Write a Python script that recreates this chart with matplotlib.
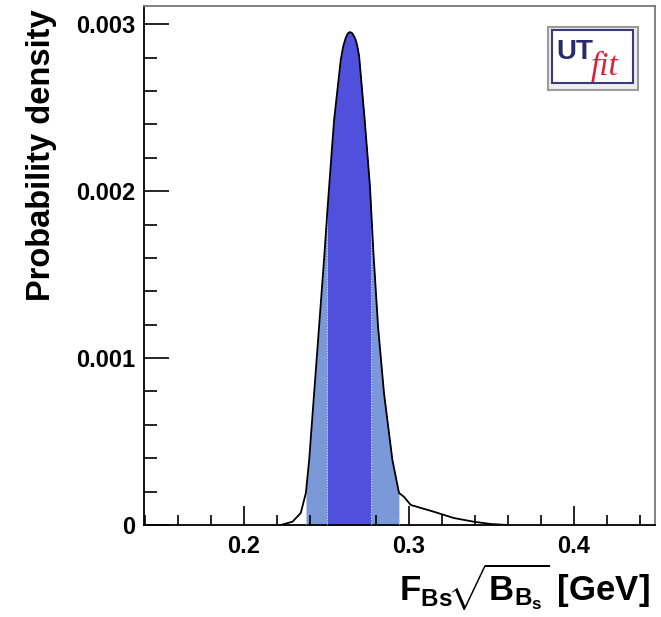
import numpy as np
import matplotlib
matplotlib.use("Agg")
import matplotlib.pyplot as plt
from matplotlib.patches import Rectangle
from matplotlib.ticker import MultipleLocator, FixedLocator

# ---- data ----
x_vals = [0.2224, 0.2295, 0.2345, 0.2376, 0.2396, 0.2426, 0.2456, 0.2487,
          0.2507, 0.2517, 0.2547, 0.2588, 0.2603, 0.2618, 0.2631, 0.2644, 0.2658,
          0.2675, 0.2687, 0.2699, 0.2733,
          0.2765, 0.2770, 0.2786, 0.2814, 0.2850, 0.2901, 0.2941, 0.2971, 0.3012,
          0.3152, 0.3273, 0.3394, 0.3497, 0.3600]
y_vals = [0.0, 0.0000198, 0.0000719, 0.000192, 0.000389, 0.000789, 0.001187, 0.001600,
          0.00189, 0.002026, 0.002425, 0.002790, 0.002870, 0.002920, 0.002946, 0.002954, 0.002946,
          0.002915, 0.002875, 0.002810, 0.002425,
          0.002026, 0.00193, 0.001629, 0.001187, 0.000789, 0.000389, 0.000192, 0.000169, 0.000120,
          0.0000796, 0.0000419, 0.0000198, 0.000006, 0.0]
band95 = (0.2376, 0.2941)
band68 = (0.2507, 0.2770)
yticks = [0, 0.001, 0.002, 0.003]
yticklabels = ["0", "0.001", "0.002", "0.003"]
xticks = [0.2, 0.3, 0.4]
xticklabels = ["0.2", "0.3", "0.4"]

plt.rcParams['font.family'] = ['Liberation Sans', 'DejaVu Sans']
plt.rcParams['mathtext.fontset'] = 'custom'
plt.rcParams['mathtext.rm'] = 'Liberation Sans:bold'
plt.rcParams['mathtext.bf'] = 'Liberation Sans:bold'
plt.rcParams['mathtext.it'] = 'Liberation Sans:bold'
plt.rcParams['mathtext.sf'] = 'Liberation Sans:bold'

fig = plt.figure(figsize=(6.61, 6.17), dpi=100)
ax = fig.add_axes([144/661, 92/617, 511/661, 519/617])

x = np.array(x_vals)
y = np.array(y_vals)

light = '#7b98d8'
dark = '#5050dc'
m95 = (x >= band95[0]) & (x <= band95[1])
m68 = (x >= band68[0]) & (x <= band68[1])
ax.fill_between(x, 0, y, where=m95, color=light, lw=0, zorder=1)
ax.fill_between(x, 0, y, where=m68, color=dark, lw=0, zorder=2)
for xb in [band95[0], band95[1], band68[0], band68[1]]:
    yb = y[np.isclose(x, xb)][0]
    ax.plot([xb, xb], [0, yb], color='#d8dcf0', lw=0.8, ls=(0, (1, 1.5)), zorder=3)
ax.plot(x, y, color='black', lw=1.3, zorder=4)

ax.set_xlim(0.1394, 0.4494)
ax.set_ylim(0, 0.00311)

ax.xaxis.set_major_locator(FixedLocator(xticks))
ax.set_xticklabels(xticklabels)
ax.xaxis.set_minor_locator(MultipleLocator(0.02))
ax.yaxis.set_major_locator(FixedLocator(yticks))
ax.set_yticklabels(yticklabels)
ax.yaxis.set_minor_locator(MultipleLocator(0.0002))

ax.tick_params(axis='x', which='major', direction='in', length=14, width=1.2,
               labelsize=17, pad=7, top=False)
ax.tick_params(axis='x', which='minor', direction='in', length=7, width=1.2, top=False)
ax.tick_params(axis='y', which='major', direction='in', length=18, width=1.2,
               labelsize=17, pad=6, right=False)
ax.tick_params(axis='y', which='minor', direction='in', length=9, width=1.2, right=False)
for lab in ax.get_xticklabels() + ax.get_yticklabels():
    lab.set_fontweight('bold')

ax.spines['left'].set_linewidth(1.3)
ax.spines['bottom'].set_linewidth(1.3)
ax.spines['top'].set_color('#777777')
ax.spines['right'].set_color('#777777')
ax.spines['top'].set_linewidth(1.3)
ax.spines['right'].set_linewidth(1.3)

fig.text(42/661, 1 - 155/617, "Probability density", rotation=90, fontsize=23.5,
         fontweight='bold', ha='center', va='center')
fig.text(650/661, 4/617, r"$\mathrm{F_{Bs}}\!\sqrt{\mathrm{B_{B_s}}}$ [GeV]", fontsize=25,
         fontweight='bold', ha='right', va='bottom')

# UTfit logo
fx0, fy0, fw, fh = 548/661, 1 - 90/617, 90/661, 63/617
fig.patches.append(Rectangle((fx0, fy0), fw, fh, transform=fig.transFigure,
                             facecolor='#eeeeee', edgecolor='#9a9a9a', lw=1.5, zorder=5))
fig.patches.append(Rectangle((fx0 + 4/661, fy0 + 7/617), fw - 9/661, fh - 10/617,
                             transform=fig.transFigure, facecolor='white',
                             edgecolor='#3a3a7a', lw=1.5, zorder=6))
fig.text(fx0 + 8/661, fy0 + 0.60*fh, "UT", fontsize=20, fontweight='bold',
         color='#2a2a6a', ha='left', va='center', zorder=7)
fig.text(fx0 + 43/661, fy0 + 0.38*fh, "fit", fontsize=24, fontstyle='italic',
         family=['Liberation Serif'], color='#e0203a', ha='left', va='center', zorder=7)

fig.savefig("out.png", dpi=100)
